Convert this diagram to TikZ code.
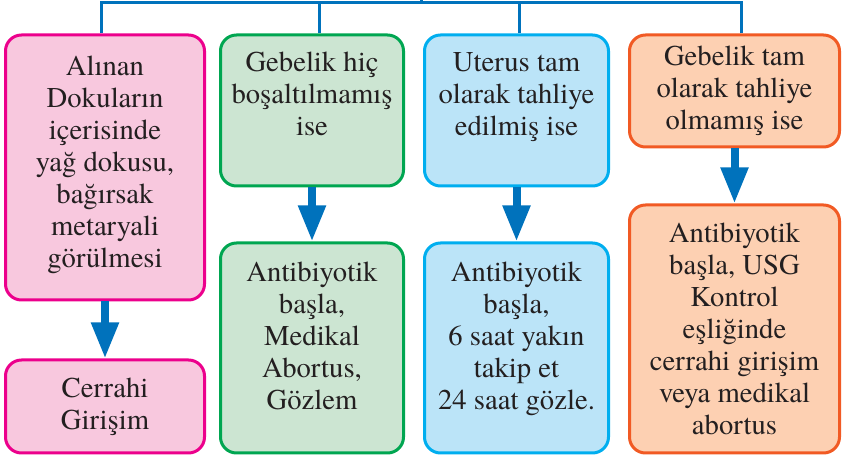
\documentclass[tikz,border=0pt]{standalone}
\usepackage{fontspec}
\setmainfont{texgyretermes}[Extension=.otf,UprightFont=*-regular,BoldFont=*-bold]
\usetikzlibrary{arrows.meta,positioning,calc}
\definecolor{yazi}{RGB}{35,31,32}
\definecolor{okmavi}{RGB}{0,114,188}
\definecolor{pembeK}{RGB}{236,0,140}
\definecolor{pembeA}{RGB}{248,200,222}
\definecolor{yesilK}{RGB}{0,166,81}
\definecolor{yesilA}{RGB}{204,229,210}
\definecolor{maviK}{RGB}{0,174,239}
\definecolor{maviA}{RGB}{187,228,248}
\definecolor{turuncuK}{RGB}{241,90,36}
\definecolor{turuncuA}{RGB}{253,208,178}

\begin{document}
\begin{tikzpicture}[x=0.75pt,y=-0.75pt,>=Latex,every node/.style={font=\fontsize{21.5}{24}\selectfont,text=yazi},box/.style={draw,line width=2.25pt,rounded corners=12pt,align=center,inner sep=2pt},boxsize/.style 2 args={minimum width=#1*0.75pt,minimum height=#2*0.75pt},pembe/.style={box,draw=pembeK,fill=pembeA},yesil/.style={box,draw=yesilK,fill=yesilA},mavi/.style={box,draw=maviK,fill=maviA},turuncu/.style={box,draw=turuncuK,fill=turuncuA},tree/.style={draw=okmavi,line width=2.25pt},flow/.style={okmavi,line width=6pt,-{Triangle[width=19.5pt,length=27pt]}}]
\useasboundingbox (0,0) rectangle (843,459);
\node[pembe,boxsize={199}{265},anchor=north,text depth=9pt] (doku) at (105,33.5) {Alınan\\Dokuların\\içerisinde\\yağ dokusu,\\bağırsak\\metaryali\\görülmesi};
\node[pembe,boxsize={199}{93},below=42.75pt of doku] (cerrahi) {Cerrahi\\Girişim};
\node[yesil,boxsize={183}{151},anchor=north,text depth=25pt] (bosalt) at (312,33.5) {Gebelik hiç\\boşaltılmamış\\ise};
\node[yesil,boxsize={183}{210},below=40.5pt of bosalt,text depth=18pt] (medikal) {Antibiyotik\\başla,\\Medikal\\Abortus,\\Gözlem};
\node[mavi,boxsize={184}{151},anchor=north,text depth=25pt] (uterus) at (516.5,33.5) {Uterus tam\\olarak tahliye\\edilmiş ise};
\node[mavi,boxsize={184}{210},below=40.5pt of uterus,text depth=18pt] (takip) {Antibiyotik\\başla,\\6 saat yakın\\takip et\\24 saat gözle.};
\node[turuncu,boxsize={210}{112},anchor=north] (tahliye) at (734.5,33.5) {Gebelik tam\\olarak tahliye\\olmamış ise};
\node[turuncu,boxsize={210}{248},below=41.25pt of tahliye] (usg) {Antibiyotik\\başla, USG\\Kontrol\\eşliğinde\\cerrahi girişim\\veya medikal\\abortus};
% ust baglanti
\coordinate (root) at (421,0);
\coordinate (bar) at (421,3);
\draw[tree] (root) -- (bar);
\foreach \n/\dx in {doku/-4,bosalt/7,uterus/2.5,tahliye/6.5}
  \draw[tree] ($(\n.north)+(\dx,0)$) |- (bar);
\draw[flow] (doku) -- (cerrahi);
\draw[flow] (bosalt) -- (medikal);
\draw[flow] (uterus) -- (takip);
\draw[flow] (tahliye) -- (usg);
\end{tikzpicture}
\end{document}
